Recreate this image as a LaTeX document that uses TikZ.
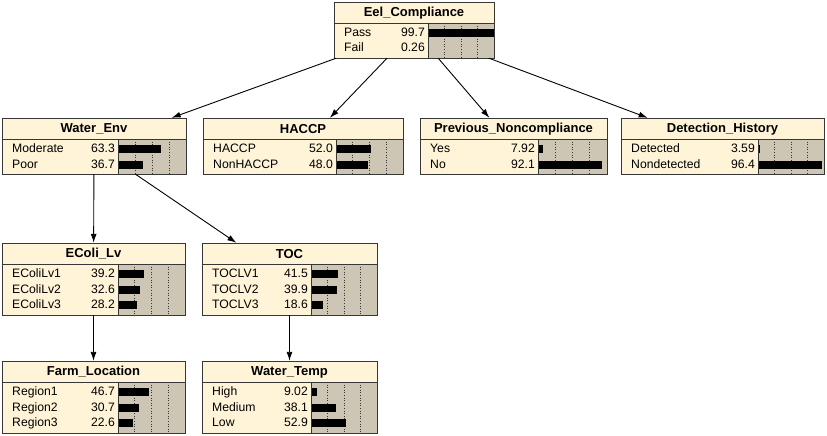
\documentclass[tikz,border=0pt]{standalone}
\usepackage{fontspec}
\setmainfont{Liberation Sans}
\usetikzlibrary{arrows.meta}

\definecolor{netcream}{RGB}{255,244,216}
\definecolor{nettan}{RGB}{206,198,180}
\definecolor{netline}{RGB}{55,55,55}

\tikzset{
  netbox/.style={rectangle, inner sep=0pt},
  nettitle/.style={font=\fontsize{13}{15}\selectfont\bfseries, inner sep=0pt},
  netstate/.style={font=\fontsize{12.2}{14}\selectfont, inner sep=0pt, text height=9pt, text depth=2.5pt},
  netframe/.style={draw=netline, line width=0.8pt},
  netlink/.style={-{Latex[length=9pt,width=6pt]}, line width=0.9pt},
}

% #1 name, #2 left, #3 top, #4 width, #5 height, #6 label width, #7 title, #8 states
\newcommand{\netnode}[8]{%
  \node[netbox, minimum width=#4pt, minimum height=#5pt] (#1) at (#2+#4/2,#3+#5/2) {};
  \fill[netcream] (#2,#3) rectangle ++(#4,#5);
  \fill[nettan] (#2+#6,#3+21) rectangle (#2+#4,#3+#5);
  \foreach \q in {1,2,3}
    \draw[dotted, netline, line width=0.6pt] (#2+#6+\q*#4/4-\q*#6/4,#3+21) -- ++(0,#5-21);
  \node[nettitle] at (#2+#4/2,#3+11) {#7};
  \foreach \s/\v [count=\i] in {#8} {
    \node[netstate, anchor=west] at (#2+10,#3+15.5*\i+15.75) {\s};
    \node[netstate, anchor=east] at (#2+#6-3,#3+15.5*\i+15.75) {\v};
    \fill (#2+#6,#3+15.5*\i+11.75) rectangle ++({(\v/100)*(#4-#6)},8);
  }
  \draw[netframe] (#2,#3) rectangle ++(#4,#5);
  \draw[netframe] (#2,#3+21) -- ++(#4,0) (#2+#6,#3+21) -- ++(0,#5-21);
}

\begin{document}
\begin{tikzpicture}[x=1pt,y=-1pt]
\useasboundingbox (0,0) rectangle (827,436);

% top node
\netnode{eel}{334}{2}{160}{56}{94}{Eel\_Compliance}{Pass/99.7,Fail/0.26}

% second row
\netnode{wenv}{2}{118}{184}{56}{116}{Water\_Env}{Moderate/63.3,Poor/36.7}
\netnode{haccp}{203}{118}{200}{56}{133}{HACCP}{HACCP/52.0,NonHACCP/48.0}
\netnode{prev}{420}{118}{187}{56}{118}{Previous\_Noncompliance}{Yes/7.92,No/92.1}
\netnode{det}{621}{118}{203}{56}{137}{Detection\_History}{Detected/3.59,Nondetected/96.4}

% third row
\netnode{ecoli}{2}{243}{183}{72}{116}{EColi\_Lv}{EColiLv1/39.2,EColiLv2/32.6,EColiLv3/28.2}
\netnode{toc}{202}{243}{175}{72}{109}{TOC}{TOCLV1/41.5,TOCLV2/39.9,TOCLV3/18.6}

% bottom row
\netnode{farm}{2}{361}{183}{72}{116}{Farm\_Location}{Region1/46.7,Region2/30.7,Region3/22.6}
\netnode{wtemp}{202}{361}{175}{72}{109}{Water\_Temp}{High/9.02,Medium/38.1,Low/52.9}

\draw[netlink] (eel) -- (wenv);
\draw[netlink] (eel) -- (haccp);
\draw[netlink] (eel) -- (prev);
\draw[netlink] (eel) -- (det);
\draw[netlink] (wenv) -- (ecoli);
\draw[netlink] (wenv) -- (toc);
\draw[netlink] (ecoli) -- (farm);
\draw[netlink] (toc) -- (wtemp);
\end{tikzpicture}
\end{document}
